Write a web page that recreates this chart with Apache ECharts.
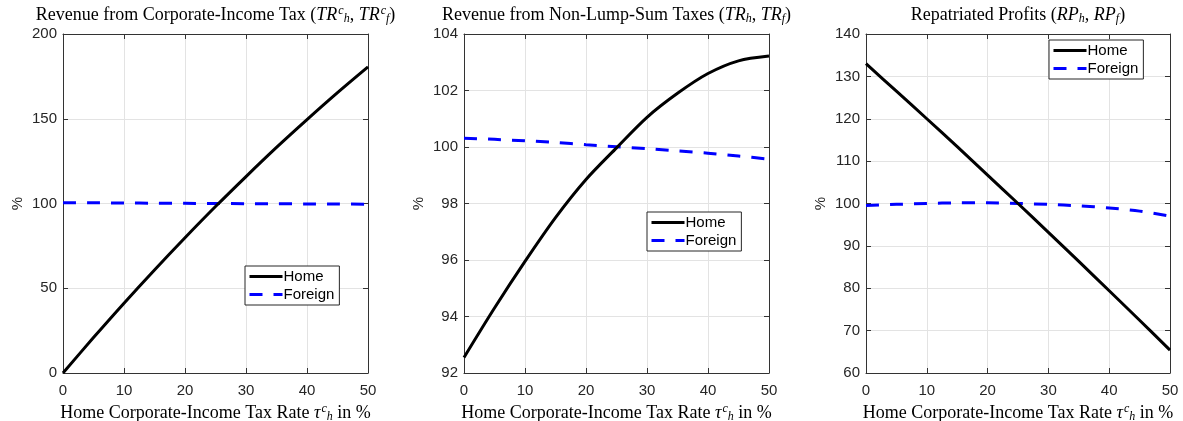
<!DOCTYPE html>
<html>
<head>
<meta charset="utf-8">
<script src="https://cdn.jsdelivr.net/npm/echarts@6/dist/echarts.min.js"></script>
<style>
  html, body { margin: 0; padding: 0; background: #fff; }
  #chart { width: 1183px; height: 421px; }
</style>
</head>
<body>
<div id="chart"></div>
<script>
// Home corporate-income tax rate (%)
const rates = [0, 5, 10, 15, 20, 25, 30, 35, 40, 45, 50];

// Revenue from corporate-income tax (%)
const corpHome    = [0, 20.9, 41.2, 60.8, 79.8, 98.2, 115.9, 133.1, 149.5, 165.4, 180.6];
const corpForeign = [100.5, 100.4, 100.3, 100.2, 100.1, 100.0, 99.9, 99.85, 99.75, 99.7, 99.6];

// Revenue from non-lump-sum taxes (%)
const nlsHome    = [92.55, 94.3, 95.95, 97.5, 98.85, 99.97, 101.05, 101.9, 102.6, 103.05, 103.22];
const nlsForeign = [100.31, 100.27, 100.22, 100.16, 100.08, 100.01, 99.94, 99.86, 99.78, 99.68, 99.57];

// Repatriated profits (%)
const repHome    = [133.0, 126.5, 120.0, 113.4, 106.7, 100.0, 93.2, 86.35, 79.4, 72.45, 65.4];
const repForeign = [99.5, 99.8, 100.0, 100.15, 100.15, 100.0, 99.8, 99.45, 98.95, 98.2, 97.0];

// Axis ranges
const xRange = { min: 0, max: 50, interval: 10 };
const yRanges = [
  { min: 0, max: 200, interval: 50 },
  { min: 92, max: 104, interval: 2 },
  { min: 60, max: 140, interval: 10 }
];

const seriesNames = ['Home', 'Foreign'];

const pair = (vals) => rates.map((r, i) => [r, vals[i]]);

const panels = [
  { left: 63, width: 305, home: corpHome, foreign: corpForeign,
    title: ['Revenue from Corporate-Income Tax (', 'TR', 'c', 'h', ', ', 'TR', 'c', 'f', ')'],
    legend: { left: 245, top: 266 } },
  { left: 464, width: 305, home: nlsHome, foreign: nlsForeign,
    title: ['Revenue from Non-Lump-Sum Taxes (', 'TR', '', 'h', ', ', 'TR', '', 'f', ')'],
    legend: { left: 647, top: 212 } },
  { left: 866, width: 304, home: repHome, foreign: repForeign,
    title: ['Repatriated Profits (', 'RP', '', 'h', ', ', 'RP', '', 'f', ')'],
    legend: { left: 1049, top: 40 } }
];

const TOP = 34, HEIGHT = 339;
const AXIS_COLOR = '#333333';
const TEXT_COLOR = '#262626';
const SANS = 'Liberation Sans, Arial, Helvetica, sans-serif';
const SERIF = 'Liberation Serif, Times New Roman, serif';

function makeRich(size, lh) {
  const small = Math.round(size * 0.68);
  return {
    n:   { fontFamily: SERIF, fontSize: size, fontWeight: 'normal', color: '#000', lineHeight: lh, verticalAlign: 'middle' },
    i:   { fontFamily: SERIF, fontSize: size, fontWeight: 'normal', fontStyle: 'italic', color: '#000', lineHeight: lh, verticalAlign: 'middle' },
    sup: { fontFamily: SERIF, fontSize: small, fontWeight: 'normal', fontStyle: 'italic', color: '#000', lineHeight: lh, verticalAlign: 'top', padding: [0, 0, 0, 1] },
    sub: { fontFamily: SERIF, fontSize: small, fontWeight: 'normal', fontStyle: 'italic', color: '#000', lineHeight: lh, verticalAlign: 'bottom' }
  };
}
const titleRich = makeRich(18, 20);
const nameRich = makeRich(18, 20);

function mathText(parts) {
  // parts: [prefix, sym, sup, sub, sep, sym, sup, sub, suffix]
  const seg = (s, st) => s ? `{${st}|${s}}` : '';
  return seg(parts[0], 'n') + seg(parts[1], 'i') + seg(parts[2], 'sup') + seg(parts[3], 'sub') +
         seg(parts[4], 'n') + seg(parts[5], 'i') + seg(parts[6], 'sup') + seg(parts[7], 'sub') +
         seg(parts[8], 'n');
}

const xName = '{n|Home Corporate-Income Tax Rate }{i|τ}{sup|c}{sub|h}{n| in %}';

const grid = [], xAxis = [], yAxis = [], series = [], title = [], legend = [];

panels.forEach((p, k) => {
  grid.push({ left: p.left, width: p.width, top: TOP, height: HEIGHT, containLabel: false, outerBoundsMode: 'none' });

  const tickStyle = { show: true, inside: true, length: 5, lineStyle: { color: AXIS_COLOR, width: 1 } };
  const lineStyle = { show: true, onZero: false, lineStyle: { color: AXIS_COLOR, width: 1 } };

  // bottom x axis
  xAxis.push({
    type: 'value', gridIndex: k, position: 'bottom', ...xRange,
    axisLine: lineStyle, axisTick: tickStyle,
    axisLabel: { color: TEXT_COLOR, fontFamily: SANS, fontSize: 15, margin: 10 },
    splitLine: { show: true, lineStyle: { color: '#e3e3e3', width: 1 } },
    name: xName, nameLocation: 'middle', nameGap: 29,
    nameTextStyle: { rich: nameRich }
  });
  // top x axis (box edge)
  xAxis.push({
    type: 'value', gridIndex: k, position: 'top', ...xRange,
    axisLine: lineStyle, axisTick: tickStyle,
    axisLabel: { show: false }, splitLine: { show: false }
  });
  // left y axis
  yAxis.push({
    type: 'value', gridIndex: k, position: 'left', ...yRanges[k],
    axisLine: lineStyle, axisTick: tickStyle,
    axisLabel: { color: TEXT_COLOR, fontFamily: SANS, fontSize: 15, margin: 6 },
    splitLine: { show: true, lineStyle: { color: '#e3e3e3', width: 1 } },
    name: '%', nameLocation: 'middle', nameGap: 38, nameRotate: 90,
    nameTextStyle: { color: TEXT_COLOR, fontFamily: SANS, fontSize: 15 }
  });
  // right y axis (box edge)
  yAxis.push({
    type: 'value', gridIndex: k, position: 'right', ...yRanges[k],
    axisLine: lineStyle, axisTick: tickStyle,
    axisLabel: { show: false }, splitLine: { show: false }
  });

  series.push({
    name: seriesNames[0], type: 'line', xAxisIndex: 2 * k, yAxisIndex: 2 * k,
    data: pair(p.home), smooth: 0.3, showSymbol: false, symbol: 'none',
    lineStyle: { color: '#000000', width: 3 }, itemStyle: { color: '#000000' },
    z: 3, animation: false
  });
  series.push({
    name: seriesNames[1], type: 'line', xAxisIndex: 2 * k, yAxisIndex: 2 * k,
    data: pair(p.foreign), smooth: 0.3, showSymbol: false, symbol: 'none',
    lineStyle: { color: '#0000ff', width: 3, type: [13, 11] }, itemStyle: { color: '#0000ff' },
    z: 2, animation: false
  });

  title.push({
    text: mathText(p.title), left: p.left + p.width / 2, top: 5, textAlign: 'center', padding: 0,
    textStyle: { fontWeight: 'normal', rich: titleRich }
  });

  legend.push({
    data: seriesNames, orient: 'vertical', left: p.legend.left, top: p.legend.top,
    padding: [3, 5, 3, 3], itemGap: 3, itemWidth: 33, itemHeight: 14,
    backgroundColor: '#ffffff', borderColor: '#262626', borderWidth: 1, borderRadius: 0,
    selectedMode: false,
    itemStyle: { opacity: 0 },
    lineStyle: { width: 3 },
    textStyle: { color: '#000', fontFamily: SANS, fontSize: 15, padding: [0, 0, 0, -4] }
  });
});

const chart = echarts.init(document.getElementById('chart'), null, { renderer: 'canvas' });
chart.setOption({
  animation: false,
  backgroundColor: '#ffffff',
  title, legend, grid, xAxis, yAxis, series
});
</script>
</body>
</html>
